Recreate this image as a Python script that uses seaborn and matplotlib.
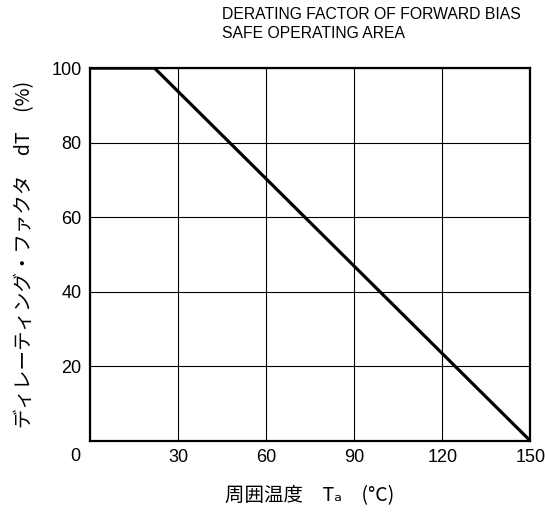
import matplotlib
matplotlib.use('agg')
import matplotlib.pyplot as plt
import seaborn as sns
import pandas as pd

# derating curve
temps = [0, 22, 150]
factor = [100, 100, 0]
x_ticks = [0, 30, 60, 90, 120, 150]
y_ticks = [0, 20, 40, 60, 80, 100]

sns.set_style('white')
plt.rcParams['font.family'] = ['Liberation Sans', 'Noto Sans CJK JP', 'DejaVu Sans']
plt.rcParams['text.color'] = 'black'
plt.rcParams['axes.labelcolor'] = 'black'
plt.rcParams['xtick.color'] = 'black'
plt.rcParams['ytick.color'] = 'black'

df = pd.DataFrame({'Ta': temps, 'dT': factor})

fig = plt.figure(figsize=(5.45, 5.12), dpi=100)
ax = fig.add_axes([0.165, 0.139, 0.808, 0.728])

sns.lineplot(data=df, x='Ta', y='dT', color='black', linewidth=2.3, ax=ax)

ax.set_xlim(0, 150)
ax.set_ylim(0, 100)
ax.set_xticks(x_ticks)
ax.set_yticks(y_ticks)
ax.set_xticklabels([''] + [str(t) for t in x_ticks[1:]], fontsize=13)
ax.set_yticklabels([''] + [str(t) for t in y_ticks[1:]], fontsize=13)
ax.text(-0.034, -0.042, '0', transform=ax.transAxes, fontsize=13, ha='center', va='center')
ax.tick_params(length=0, pad=6)
ax.grid(True, color='black', linewidth=0.8)
for s in ax.spines.values():
    s.set_color('black')
    s.set_linewidth(1.6)

ax.set_xlabel('周囲温度　Tₐ　(°C)', fontsize=14, labelpad=14,
              family=['Noto Sans CJK JP', 'DejaVu Sans'])
ax.set_ylabel('ディレーティング・ファクタ　dT　(%)', fontsize=14, labelpad=12,
              family=['Noto Sans CJK JP', 'DejaVu Sans'])

fig.text(0.407, 0.986, 'DERATING FACTOR OF FORWARD BIAS\nSAFE OPERATING AREA',
         fontsize=11.3, ha='left', va='top', linespacing=1.3)

fig.savefig('out.png', dpi=100)
plt.close()
